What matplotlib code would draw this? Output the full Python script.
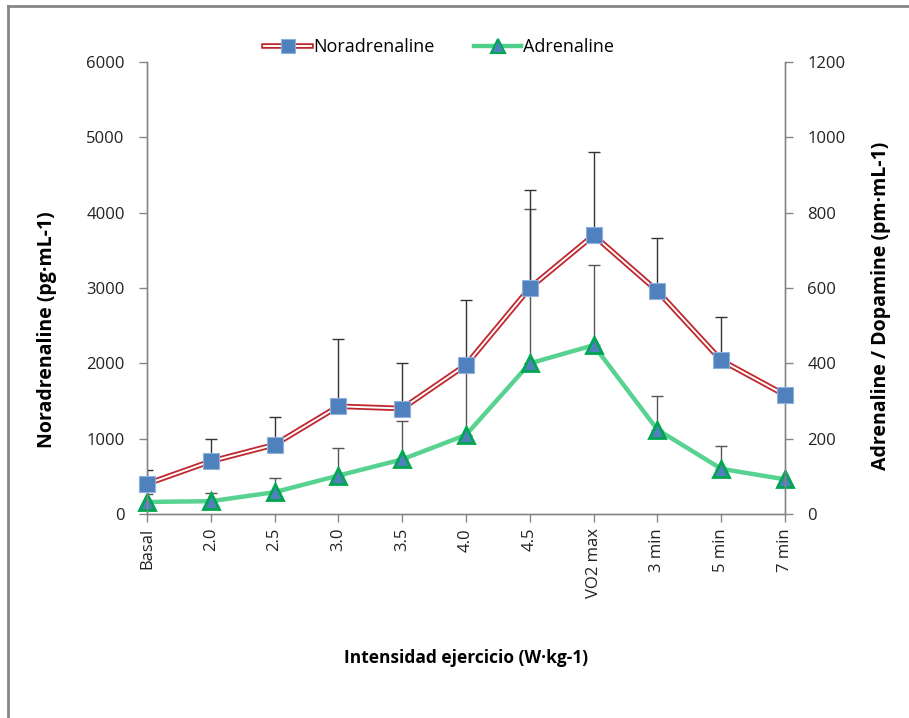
import matplotlib.pyplot as plt
import matplotlib.lines as mlines
from matplotlib.legend_handler import HandlerTuple
import numpy as np

plt.rcParams['font.family'] = ['Open Sans', 'DejaVu Sans']

categories = ["Basal", "2.0", "2.5", "3.0", "3.5", "4.0", "4.5", "VO2 max", "3 min", "5 min", "7 min"]
noradrenaline = [400, 700, 920, 1430, 1400, 1980, 3000, 3700, 2960, 2040, 1580]
noradrenaline_err = [190, 300, 370, 890, 610, 860, 1300, 1110, 710, 580, 0]
adrenaline = [32, 34, 58, 102, 145, 210, 400, 448, 224, 120, 92]
adrenaline_err = [20, 23, 38, 72, 101, 166, 410, 214, 88, 60, 0]

blue = "#4F81BD"
red = "#C0272D"
green = "#4FD08A"
green_edge = "#00A650"
grey = "#868686"

fig = plt.figure(figsize=(9.09, 7.18), dpi=100)
ax = fig.add_axes([147 / 909, 1 - 514 / 718, (785 - 147) / 909, (514 - 62) / 718])
ax2 = ax.twinx()

x = np.arange(len(categories))

# upper-only error bars
ax.errorbar(x, noradrenaline, yerr=[np.zeros(len(x)), noradrenaline_err], fmt="none",
            ecolor="#333333", elinewidth=1, capsize=4, capthick=1, zorder=2)
ax2.errorbar(x, adrenaline, yerr=[np.zeros(len(x)), adrenaline_err], fmt="none",
             ecolor="#555555", elinewidth=1, capsize=4, capthick=1, zorder=2)

# noradrenaline: double red line with blue squares
ax.plot(x, noradrenaline, color=red, lw=4, zorder=3, clip_on=False)
ax.plot(x, noradrenaline, color="white", lw=1.4, zorder=3.1, clip_on=False)
ax.plot(x, noradrenaline, ls="none", marker="s", ms=11.5, mfc=blue, mec="#8FB0DA",
        mew=0.8, zorder=4, clip_on=False)

# adrenaline: green line with blue triangles
ax2.plot(x, adrenaline, color=green, lw=3.2, alpha=0.95, zorder=3, clip_on=False)
ax2.plot(x, adrenaline, ls="none", marker="^", ms=12, mfc=blue, mec=green_edge,
         mew=2, zorder=4, clip_on=False)

ax.set_zorder(ax2.get_zorder() + 1)
ax.patch.set_visible(False)

ax.set_xlim(0, 10)
ax.set_ylim(0, 6000)
ax2.set_ylim(0, 1200)
ax.set_yticks(np.arange(0, 6001, 1000))
ax2.set_yticks(np.arange(0, 1201, 200))
ax.set_xticks(x)
ax.set_xticklabels(categories, rotation=90)

for a in (ax, ax2):
    a.spines["top"].set_visible(False)
    for s in ("left", "right", "bottom"):
        a.spines[s].set_color(grey)
        a.spines[s].set_linewidth(1)
    a.tick_params(axis="both", colors=grey, labelcolor="#222222", labelsize=12,
                  length=6, width=1, pad=4)
ax.tick_params(axis="y", pad=10)
ax2.tick_params(axis="y", pad=10)

fig.text(47 / 909, 1 - 330 / 718, "Noradrenaline (pg·mL-1)", rotation=90,
         ha="center", va="center", fontsize=14, fontweight="bold")
fig.text(881 / 909, 1 - 306 / 718, "Adrenaline / Dopamine (pm·mL-1)", rotation=90,
         ha="center", va="center", fontsize=14, fontweight="bold")
fig.text(466 / 909, 1 - 658 / 718, "Intensidad ejercicio (W·kg-1)",
         ha="center", va="center", fontsize=12.5, fontweight="bold")

# legend
h1 = (mlines.Line2D([], [], color=red, lw=4),
      mlines.Line2D([], [], color="white", lw=1.4),
      mlines.Line2D([], [], ls="none", marker="s", ms=10, mfc=blue, mec="#8FB0DA", mew=0.8))
h2 = (mlines.Line2D([], [], color=green, lw=3.2),
      mlines.Line2D([], [], ls="none", marker="^", ms=10, mfc=blue, mec=green_edge, mew=1.5))
fig.legend([h1, h2], ["Noradrenaline", "Adrenaline"],
           handler_map={tuple: HandlerTuple(ndivide=1)},
           loc="center", bbox_to_anchor=(439 / 909, 1 - 47 / 718), ncol=2,
           frameon=False, fontsize=13, handlelength=2.6, handletextpad=0.1,
           columnspacing=2.2)

# outer frame
fig.add_artist(mlines.Line2D([8 / 909, 8 / 909], [0, 1 - 6 / 718], color=grey, lw=2,
                             transform=fig.transFigure))
fig.add_artist(mlines.Line2D([8 / 909, 1], [1 - 6 / 718, 1 - 6 / 718], color=grey, lw=2,
                             transform=fig.transFigure))

fig.savefig("out.png", dpi=100)
